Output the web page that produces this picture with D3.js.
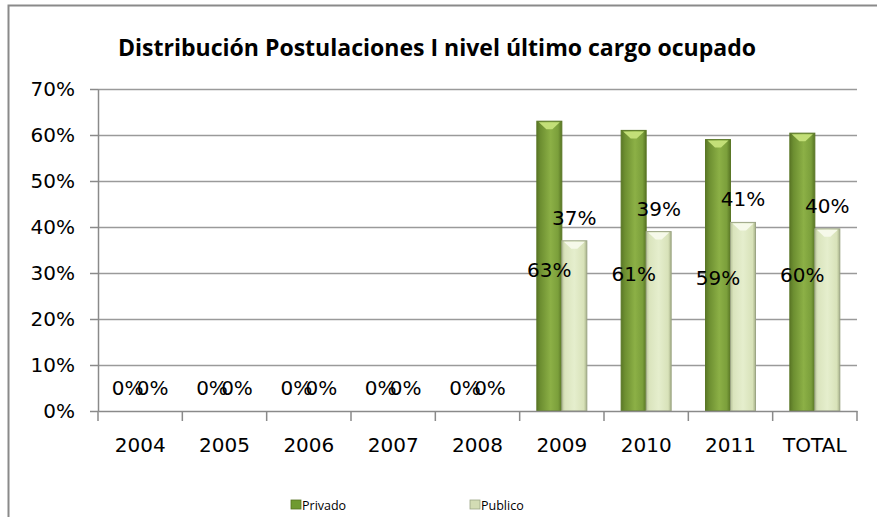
<!DOCTYPE html>
<html>
<head>
<meta charset="utf-8">
<script src="https://cdn.jsdelivr.net/npm/d3@7"></script>
<style>
  body { margin: 0; background: #fff; }
  svg { display: block; }
</style>
</head>
<body>
<svg></svg>
<script>
//data for the chart
var categories = ["2004", "2005", "2006", "2007", "2008", "2009", "2010", "2011", "TOTAL"];
var privado = [0, 0, 0, 0, 0, 0.63, 0.61, 0.59, 0.604];
var publico = [0, 0, 0, 0, 0, 0.37, 0.39, 0.41, 0.396];
var yTicks = [0, 0.1, 0.2, 0.3, 0.4, 0.5, 0.6, 0.7];
var seriesNames = ["Privado", "Publico"];

//size of the svg and the plot area
var svgWidth = 877, svgHeight = 517;
var plotLeft = 98, plotRight = 857, plotTop = 89, plotBottom = 411;
var barWidth = 25;
var font = "'DejaVu Sans', sans-serif";

var svg = d3.select("svg")
    .attr("width", svgWidth)
    .attr("height", svgHeight);

//gradients for the bars
var defs = svg.append("defs");
function gradient(id, stops) {
    var g = defs.append("linearGradient").attr("id", id)
        .attr("x1", "0%").attr("x2", "100%").attr("y1", "0%").attr("y2", "0%");
    stops.forEach(function(s) {
        g.append("stop").attr("offset", s[0]).attr("stop-color", s[1]);
    });
}
gradient("gPriv", [["0%", "#5a7726"], ["15%", "#6d8f31"], ["55%", "#8cb046"], ["85%", "#7b9f3b"], ["100%", "#587524"]]);
gradient("gPub", [["0%", "#b9c49b"], ["12%", "#dae4bd"], ["50%", "#e5eecd"], ["88%", "#d8e2b9"], ["100%", "#a7b189"]]);

//outer border of the chart
svg.append("path")
    .attr("d", "M8.5," + svgHeight + "V5.5H" + svgWidth)
    .attr("fill", "none")
    .attr("stroke", "#8a8a8a")
    .attr("stroke-width", 2);

//title
svg.append("text")
    .attr("x", 437)
    .attr("y", 56)
    .attr("text-anchor", "middle")
    .attr("font-family", "'Open Sans', sans-serif")
    .attr("font-weight", "bold")
    .attr("font-size", 24)
    .attr("textLength", 638)
    .attr("lengthAdjust", "spacingAndGlyphs")
    .attr("fill", "#000")
    .text("Distribución Postulaciones I nivel último cargo ocupado");

//scales
var xScale = d3.scaleBand()
    .domain(categories)
    .range([plotLeft, plotRight]);

var yScale = d3.scaleLinear()
    .domain([0, 0.7])
    .range([plotBottom, plotTop]);

//grid lines
svg.append("g")
    .selectAll("line")
    .data(yTicks.slice(1))
    .enter()
    .append("line")
    .attr("x1", plotLeft)
    .attr("x2", plotRight)
    .attr("y1", function(d) { return Math.round(yScale(d)) + 0.5; })
    .attr("y2", function(d) { return Math.round(yScale(d)) + 0.5; })
    .attr("stroke", "#9a9a9a")
    .attr("stroke-width", 1.5);

//y axis
var yAxis = d3.axisLeft(yScale)
    .tickValues(yTicks)
    .tickFormat(d3.format(".0%"))
    .tickSize(8)
    .tickSizeOuter(0)
    .tickPadding(15);
var gy = svg.append("g")
    .attr("transform", "translate(" + plotLeft + ",0)")
    .call(yAxis);
gy.select(".domain").attr("stroke", "#8a8a8a").attr("stroke-width", 1.5);
gy.selectAll(".tick line").attr("stroke", "#8a8a8a").attr("stroke-width", 1.5);
gy.selectAll(".tick text")
    .attr("font-family", font)
    .attr("font-size", 20)
    .attr("fill", "#000");

//bars
var half = xScale.bandwidth() / 2;
function drawSeries(values, xOff, fillId, bevel, stroke) {
    var g = svg.append("g");
    var bars = g.selectAll("g")
        .data(values.map(function(v, i) { return { v: v, c: categories[i] }; }).filter(function(d) { return d.v > 0; }))
        .enter()
        .append("g");
    bars.append("rect")
        .attr("x", function(d) { return xScale(d.c) + half + xOff; })
        .attr("y", function(d) { return yScale(d.v); })
        .attr("width", barWidth)
        .attr("height", function(d) { return plotBottom - yScale(d.v); })
        .attr("fill", "url(#" + fillId + ")")
        .attr("stroke", stroke)
        .attr("stroke-width", 1);
    //little bevel on top of each bar
    bars.append("polygon")
        .attr("points", function(d) {
            var x = xScale(d.c) + half + xOff, t = yScale(d.v);
            return [[x + 2, t + 1], [x + barWidth - 2, t + 1], [x + barWidth / 2 + 3, t + 8], [x + barWidth / 2 - 3, t + 8]].join(" ");
        })
        .attr("fill", bevel);
}
drawSeries(privado, -barWidth, "gPriv", "#c3df78", "#5a7726");
drawSeries(publico, 0, "gPub", "#f6f9ea", "#9ca585");

//x axis
var xAxis = d3.axisBottom(xScale)
    .tickSize(0)
    .tickSizeOuter(0)
    .tickPadding(27);
var gx = svg.append("g")
    .attr("transform", "translate(0," + plotBottom + ")")
    .call(xAxis);
gx.select(".domain").attr("stroke", "#8a8a8a").attr("stroke-width", 1.5);
gx.selectAll(".tick text")
    .attr("font-family", font)
    .attr("font-size", 20)
    .attr("fill", "#000");
//tick marks between categories
gx.append("g")
    .selectAll("line")
    .data(categories.concat(["end"]))
    .enter()
    .append("line")
    .attr("x1", function(d, i) { return plotLeft + i * xScale.step(); })
    .attr("x2", function(d, i) { return plotLeft + i * xScale.step(); })
    .attr("y1", 0)
    .attr("y2", 10)
    .attr("stroke", "#8a8a8a")
    .attr("stroke-width", 1.5);

//data labels
var fmt = d3.format(".0%");
function drawLabels(values, xOff, posFn) {
    svg.append("g")
        .selectAll("text")
        .data(values)
        .enter()
        .append("text")
        .attr("x", function(d, i) { return xScale(categories[i]) + half + xOff; })
        .attr("y", function(d) { return posFn(d); })
        .attr("text-anchor", "middle")
        .attr("dominant-baseline", "central")
        .attr("font-family", font)
        .attr("font-size", 20)
        .attr("fill", "#000")
        .text(function(d) { return fmt(d); });
}
drawLabels(privado, -barWidth / 2, function(d) { return yScale(0) - 23 - (yScale(0) - yScale(d)) * 0.407; });
drawLabels(publico, barWidth / 2, function(d) { return yScale(d) - 23; });

//legend
var legendX = [291, 470];
var legendFill = ["#6f9a30", "#d3dcb4"];
var legend = svg.append("g")
    .selectAll("g")
    .data(seriesNames)
    .enter()
    .append("g")
    .attr("transform", function(d, i) { return "translate(" + legendX[i] + ",500)"; });
legend.append("rect")
    .attr("width", 10)
    .attr("height", 9)
    .attr("fill", function(d, i) { return legendFill[i]; })
    .attr("stroke", function(d, i) { return i == 0 ? "#557020" : "#9ca585"; })
    .attr("stroke-width", 0.8);
legend.append("text")
    .attr("x", 11)
    .attr("y", 5)
    .attr("dominant-baseline", "central")
    .attr("font-family", "'Open Sans', sans-serif")
    .attr("font-size", 12.5)
    .attr("fill", "#000")
    .text(function(d) { return d; });
</script>
</body>
</html>
